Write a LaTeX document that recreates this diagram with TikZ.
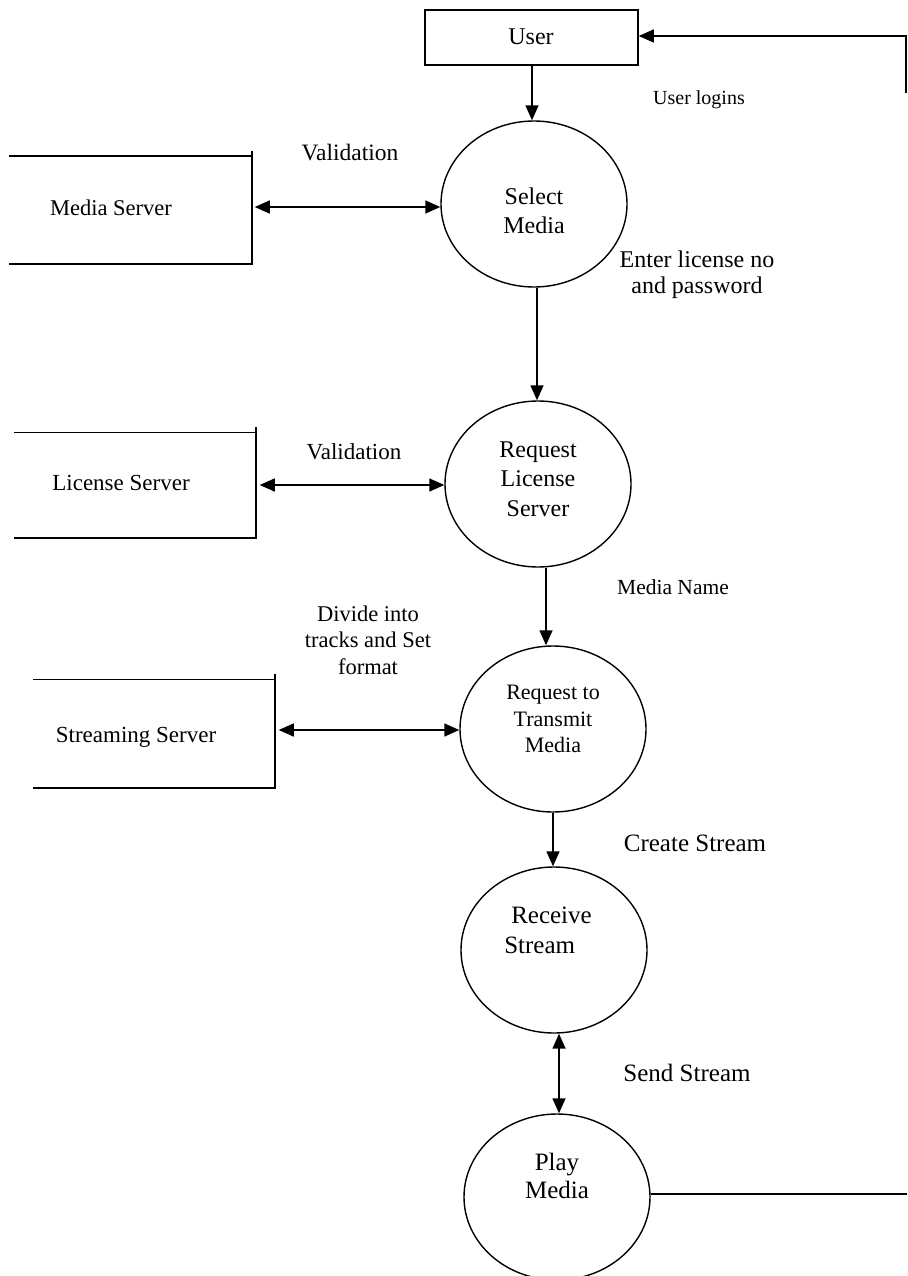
\documentclass[tikz,border=0pt]{standalone}
\usepackage{fontspec}
\setmainfont{Liberation Serif}
\usetikzlibrary{arrows.meta,shapes.geometric}

\newcommand{\fs}[2]{\fontsize{#1}{#2}\selectfont}

\begin{document}
\begin{tikzpicture}[x=1pt,y=-1pt,
  line width=1.5pt,
  proc/.style={draw, ellipse, line width=1.4pt, minimum width=186pt,
    minimum height=166pt, inner sep=0pt},
  entity/.style={draw, rectangle, line width=1.5pt, inner sep=0pt},
  store/.style={rectangle, inner sep=0pt},
  txt/.style={align=center, inner sep=0pt},
  flow/.style={-{Triangle[length=15pt,width=13pt]}},
  twoway/.style={{Triangle[length=15pt,width=13pt]}-{Triangle[length=15pt,width=13pt]}},
]
\useasboundingbox (0,0) rectangle (907,1276);

% external entity
\node[entity, minimum width=213pt, minimum height=55pt] (user) at (531.5,37.5) {};
\node[txt, font=\fs{24}{28}] at (531,37) {User};

% processes
\node[proc] (sm) at (534,204) {};
\node[txt, font=\fs{24}{29}] at (534,211) {Select\\Media};

\node[proc] (rl) at (538,484) {};
\node[txt, font=\fs{24}{29.5}] at (538,479) {Request\\License\\Server};

\node[proc] (rt) at (553,729) {};
\node[txt, font=\fs{22}{26.5}] at (553,719) {Request to\\Transmit\\Media};

\node[proc] (rs) at (554,950) {};
\node[txt, font=\fs{25}{30}, align=left] at (548,930) {\hspace*{7pt}Receive\\Stream};

\node[proc] (pm) at (557,1197) {};
\node[txt, font=\fs{25}{28}] at (557,1176) {Play\\Media};

% data stores (open on the left)
\node[store, minimum width=241pt, minimum height=106pt] (ms) at (130.5,210) {};
\node[store, minimum width=240pt, minimum height=104pt] (ls) at (135,485) {};
\node[store, minimum width=240pt, minimum height=107pt] (ss) at (154,733.5) {};
\foreach \s in {ms,ls,ss}{
  \draw[line width=1.5pt] (\s.north west) -- (\s.north east) -- (\s.south east) -- (\s.south west);
  \draw[line width=1.5pt] (\s.north east) -- ++(0,-5);
}
\node[txt, font=\fs{22.5}{26}] at (111,208) {Media Server};
\node[txt, font=\fs{23}{26}] at (121,483) {License Server};
\node[txt, font=\fs{23}{26}] at (136,737) {Streaming Server};

% flows between processes
\draw[flow] (user.south -| 532,0) -- (sm.north -| 532,0);
\draw[flow] (sm.south -| 537,0) -- (rl.north -| 537,0);
\draw[flow] (rl.south -| 546,0) -- (rt.north -| 546,0);
\draw[flow] (rt.south -| 553,0) -- (rs.north -| 553,0);
\draw[twoway] (rs.south -| 559,0) -- (pm.north -| 559,0);

% flows to and from the data stores
\draw[twoway] ([xshift=3pt]ms.east |- 0,207) -- (sm.west |- 0,207);
\draw[twoway] ([xshift=4pt]ls.east |- 0,485) -- (rl.west |- 0,485);
\draw[twoway] ([xshift=4pt]ss.east |- 0,730) -- (rt.west |- 0,730);

% return path from playback to the user
\coordinate (rtop) at (906,36);
\coordinate (rmid) at (906,93);
\coordinate (rbot) at (907,1194);
\draw (pm.east |- rbot) -- (rbot);
\draw[flow] (rmid) -- (rtop) -- (user.east |- rtop);

% flow labels
\node[txt, font=\fs{23.5}{27}] at (350,153) {Validation};
\node[txt, font=\fs{20}{24}] at (699,100) {User logins};
\node[txt, font=\fs{24}{26}] at (697,275) {Enter license no\\and password};
\node[txt, font=\fs{23}{27}] at (354,452) {Validation};
\node[txt, font=\fs{21.5}{25}] at (673,587) {Media Name};
\node[txt, font=\fs{22.5}{26.5}] at (368,640) {Divide into\\tracks and Set\\format};
\node[txt, font=\fs{25}{28}] at (695,843) {Create Stream};
\node[txt, font=\fs{25}{28}] at (687,1073) {Send Stream};
\end{tikzpicture}
\end{document}
